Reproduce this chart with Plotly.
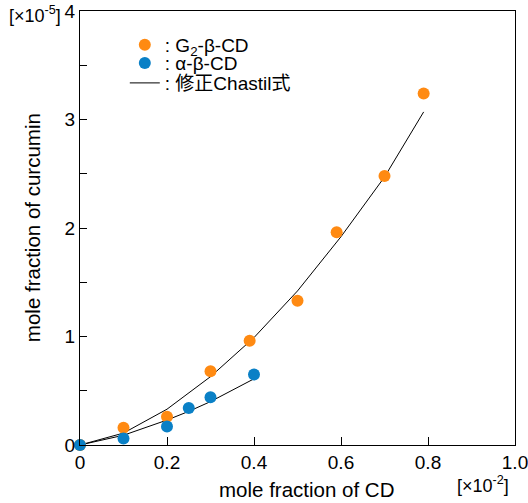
import plotly.graph_objects as go

# Data (x in units of 1e-2, y in units of 1e-5)
g2_x = [0, 0.10, 0.20, 0.30, 0.39, 0.50, 0.59, 0.70, 0.79]
g2_y = [0, 0.16, 0.26, 0.68, 0.96, 1.33, 1.96, 2.48, 3.24]
a_x = [0, 0.10, 0.20, 0.25, 0.30, 0.40]
a_y = [0, 0.06, 0.17, 0.34, 0.44, 0.65]

g2_fit_x = [0, 0.10, 0.20, 0.30, 0.40, 0.50, 0.60, 0.70, 0.79]
g2_fit_y = [0, 0.11, 0.33, 0.63, 0.99, 1.42, 1.92, 2.47, 3.07]
a_fit_x = [0, 0.10, 0.20, 0.25, 0.30, 0.40]
a_fit_y = [0, 0.09, 0.23, 0.31, 0.40, 0.61]

x_ticks = [0, 0.2, 0.4, 0.6, 0.8, 1.0]
x_ticktext = ["0", "0.2", "0.4", "0.6", "0.8", "1.0"]
y_ticks = [0, 1, 2, 3, 4]
y_ticktext = ["0", "1", "2", "3", "4"]

ORANGE = "#FF8A12"
BLUE = "#0A80C6"
FONT = "Liberation Sans, Arial, Noto Sans CJK JP, sans-serif"

fig = go.Figure()
fig.add_trace(go.Scatter(x=g2_fit_x, y=g2_fit_y, mode="lines",
                         line=dict(color="black", width=1),
                         name=": 修正Chastil式", legend="legend3"))
fig.add_trace(go.Scatter(x=a_fit_x, y=a_fit_y, mode="lines",
                         line=dict(color="black", width=1),
                         showlegend=False))
fig.add_trace(go.Scatter(x=g2_x, y=g2_y, mode="markers",
                         marker=dict(color=ORANGE, size=12),
                         name=": G<sub>2</sub>-β-CD", legend="legend", cliponaxis=False))
fig.add_trace(go.Scatter(x=a_x, y=a_y, mode="markers",
                         marker=dict(color=BLUE, size=12),
                         name=": α-β-CD", legend="legend2", cliponaxis=False))

leg_common = dict(x=0.103, xanchor="left", yanchor="middle",
                  bgcolor="rgba(0,0,0,0)", font=dict(size=19), itemwidth=30)

fig.update_layout(
    width=528, height=503,
    margin=dict(l=80, r=13, t=11, b=58),
    paper_bgcolor="white", plot_bgcolor="white",
    font=dict(family=FONT, size=19, color="black"),
    legend=dict(y=0.922, **leg_common),
    legend2=dict(y=0.880, **leg_common),
    legend3=dict(y=0.834, **leg_common),
    xaxis=dict(range=[0, 1.0], tickvals=x_ticks, ticktext=x_ticktext,
               ticks="inside", ticklen=8, tickcolor="black",
               ticklabeloverflow="allow",
               showline=True, linecolor="black", linewidth=1, mirror=True,
               showgrid=False, zeroline=False, automargin=False),
    yaxis=dict(range=[0, 4.0], tickvals=y_ticks, ticktext=y_ticktext,
               ticks="inside", ticklen=7, tickcolor="black",
               ticklabeloverflow="allow",
               minor=dict(dtick=0.5, ticks="inside", ticklen=7, tickcolor="black"),
               showline=True, linecolor="black", linewidth=1, mirror=True,
               showgrid=False, zeroline=False, automargin=False),
)

# axis titles
fig.add_annotation(text="mole fraction of CD", xref="paper", yref="paper",
                   x=0.52, y=-0.103, xanchor="center", yanchor="middle",
                   showarrow=False, font=dict(size=20.5))
fig.add_annotation(text="mole fraction of curcumin", xref="paper", yref="paper",
                   x=-0.11, y=0.5, xanchor="center", yanchor="middle",
                   textangle=-90, showarrow=False, font=dict(size=20.5))
# exponent labels
fig.add_annotation(text="[×10<sup>-5</sup>]", xref="paper", yref="paper",
                   x=-0.04, y=0.992, xanchor="right", yanchor="middle",
                   showarrow=False, font=dict(size=18))
fig.add_annotation(text="[×10<sup>-2</sup>]", xref="paper", yref="paper",
                   x=0.926, y=-0.092, xanchor="center", yanchor="middle",
                   showarrow=False, font=dict(size=18))

fig.write_html("out.html", config={"displayModeBar": False},
               post_script="document.body.style.margin='0';document.body.style.padding='0';")
